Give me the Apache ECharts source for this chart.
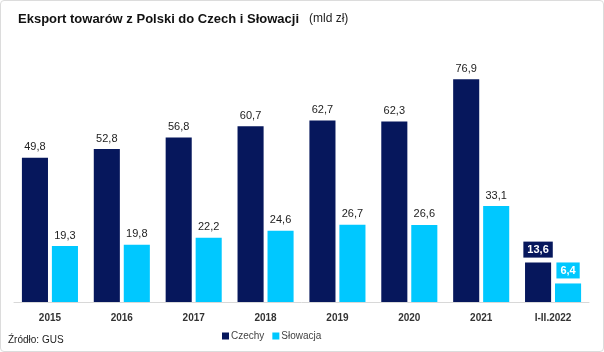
<!DOCTYPE html>
<html>
<head>
<meta charset="utf-8">
<script src="https://cdn.jsdelivr.net/npm/echarts@6/dist/echarts.min.js"></script>
<style>
  html, body { margin: 0; padding: 0; background: #fff; }
  #wrap { position: absolute; left: 0; top: 0; width: 602px; height: 350px; border: 1px solid #dcdcdc; border-radius: 4px; }
  #chart { width: 602px; height: 350px; }
</style>
</head>
<body>
<div id="wrap"><div id="chart"></div></div>
<script>
  // dane
  var years = ["2015", "2016", "2017", "2018", "2019", "2020", "2021", "I-II.2022"];
  var czechy = [49.8, 52.8, 56.8, 60.7, 62.7, 62.3, 76.9, 13.6];
  var slowacja = [19.3, 19.8, 22.2, 24.6, 26.7, 26.6, 33.1, 6.4];

  var navy = "#06175c";
  var cyan = "#00c8ff";
  var font = "Liberation Sans, Arial, sans-serif";

  function fmt(v) {
    return String(v).replace(".", ",");
  }

  // ostatni słupek ma etykietę w ramce
  function withBoxes(arr, color) {
    return arr.map(function (v, i) {
      if (i === arr.length - 1) {
        return {
          value: v,
          label: {
            color: "#fff",
            fontWeight: "bold",
            backgroundColor: color,
            padding: [3, 4, 2, 4]
          }
        };
      }
      return v;
    });
  }

  var myChart = echarts.init(document.getElementById("chart"));
  var option = {
    animation: false,
    textStyle: { fontFamily: font },
    title: {
      text: "{b|Eksport towarów z Polski do Czech i Słowacji}  {n|(mld zł)}",
      left: 12,
      top: 4,
      textStyle: {
        fontWeight: "normal",
        rich: {
          b: { fontSize: 13, fontWeight: "bold", color: "#111", fontFamily: font },
          n: { fontSize: 12, fontWeight: "normal", color: "#222", fontFamily: font }
        }
      }
    },
    graphic: [{
      type: "text",
      left: 7,
      top: 334,
      style: { text: "Źródło: GUS", fontSize: 10, fill: "#222", fontFamily: font }
    }],
    legend: {
      bottom: 5,
      left: 216,
      itemWidth: 7,
      itemHeight: 7,
      itemGap: 8,
      icon: "rect",
      textStyle: { fontSize: 10, color: "#444", padding: [0, 0, 0, -3] },
      data: ["Czechy", "Słowacja"]
    },
    grid: { left: 13, right: 14, top: 49, bottom: 49 },
    xAxis: {
      type: "category",
      data: years,
      axisLine: { lineStyle: { color: "#d8d8d8" } },
      axisTick: { show: false },
      axisLabel: { color: "#333", fontSize: 10, fontWeight: "bold", margin: 11 }
    },
    yAxis: {
      type: "value",
      min: 0,
      max: 87,
      show: false,
      splitLine: { show: false }
    },
    series: [
      {
        name: "Czechy",
        type: "bar",
        data: withBoxes(czechy, navy),
        barGap: "15%",
        barCategoryGap: "22%",
        itemStyle: { color: navy },
        label: {
          show: true,
          position: "top",
          distance: 5,
          fontSize: 11,
          color: "#222",
          formatter: function (p) { return fmt(p.value); }
        }
      },
      {
        name: "Słowacja",
        type: "bar",
        data: withBoxes(slowacja, cyan),
        itemStyle: { color: cyan },
        label: {
          show: true,
          position: "top",
          distance: 5,
          fontSize: 11,
          color: "#222",
          formatter: function (p) { return fmt(p.value); }
        }
      }
    ]
  };
  myChart.setOption(option);
</script>
</body>
</html>
